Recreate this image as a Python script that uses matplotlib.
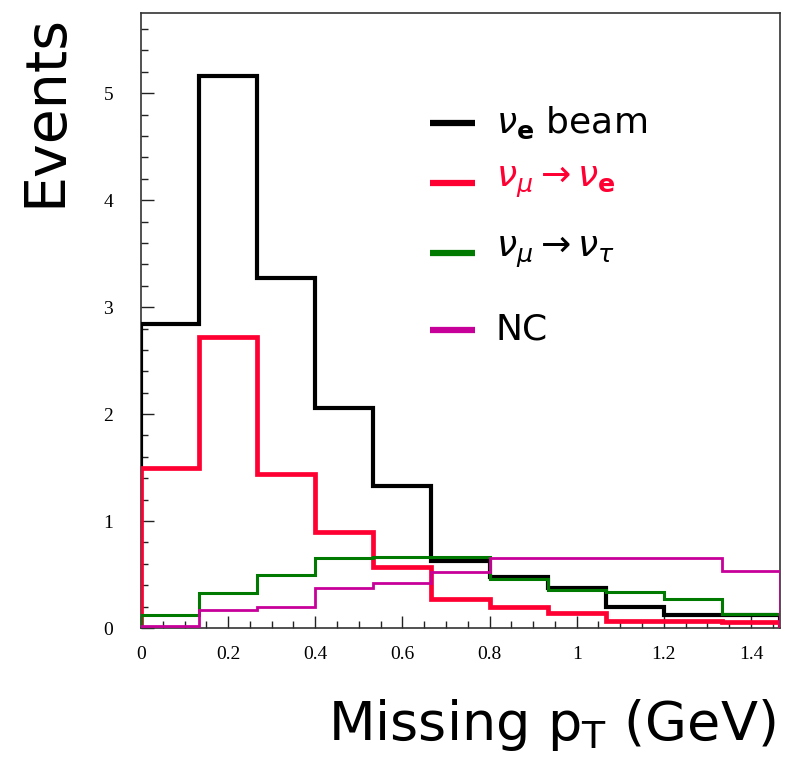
import numpy as np
import matplotlib
matplotlib.use('Agg')
from matplotlib import pyplot as plt
from matplotlib.ticker import MultipleLocator

# bin edges: 11 bins of width 2/15 GeV
edges = np.linspace(0, 22 / 15, 12)

nue_beam = [2.84, 5.16, 3.27, 2.06, 1.33, 0.63, 0.48, 0.37, 0.20, 0.12, 0.12]
numu_nue = [1.50, 2.72, 1.44, 0.90, 0.57, 0.27, 0.20, 0.14, 0.065, 0.065, 0.06]
numu_nutau = [0.12, 0.33, 0.50, 0.65, 0.66, 0.66, 0.46, 0.36, 0.34, 0.27, 0.13]
nc = [0.02, 0.17, 0.20, 0.37, 0.42, 0.52, 0.65, 0.65, 0.65, 0.65, 0.53]

labels = [r'$\nu_{\mathbf{e}}$ beam',
          r'$\nu_{\mu}\rightarrow\nu_{\mathbf{e}}$',
          r'$\nu_{\mu}\rightarrow\nu_{\tau}$',
          'NC']
colors = ['black', '#ff0033', '#007a00', '#c8009a']
text_colors = ['black', '#ff0033', 'black', 'black']
widths = [3.0, 3.4, 2.2, 2.0]

plt.rcParams['mathtext.fontset'] = 'dejavusans'

fig = plt.figure(figsize=(7.85, 7.74), dpi=100)
ax = fig.add_axes([0.1796, 0.1886, 0.8140, 0.7946])

series = [nue_beam, numu_nue, numu_nutau, nc]
for vals, c, lw in zip(series, colors, widths):
    ax.stairs(vals, edges, baseline=0, color=c, lw=lw, zorder=3)

ax.set_xlim(0, 22 / 15)
ax.set_ylim(0, 5.75)

ax.xaxis.set_major_locator(MultipleLocator(0.2))
ax.xaxis.set_minor_locator(MultipleLocator(0.05))
ax.yaxis.set_major_locator(MultipleLocator(1))
ax.yaxis.set_minor_locator(MultipleLocator(0.2))
ax.xaxis.set_major_formatter(plt.FuncFormatter(lambda v, p: f'{v:g}'))
ax.tick_params(which='both', direction='in', top=False, right=False,
               width=1.0, color='#222222')
ax.tick_params(which='major', length=9)
ax.tick_params(which='minor', length=5)
ax.tick_params(axis='x', pad=13, labelsize=14)
ax.tick_params(axis='y', pad=20, labelsize=14)
for lab in ax.get_xticklabels() + ax.get_yticklabels():
    lab.set_family('Liberation Serif')
for sp in ax.spines.values():
    sp.set_linewidth(1.2)
    sp.set_color('#333333')

# legend drawn by hand to keep its uneven spacing
leg_y = [0.821, 0.724, 0.610, 0.485]
for lbl, c, tc, y in zip(labels, colors, text_colors, leg_y):
    ax.plot([0.452, 0.523], [y, y], transform=ax.transAxes, color=c,
            lw=4.5, solid_capstyle='butt', clip_on=False)
    ax.text(0.555, y, lbl, transform=ax.transAxes, color=tc, fontsize=26,
            va='center', ha='left', family='DejaVu Sans')

fig.text(0.058, 0.857, 'Events', rotation=90, fontsize=41,
         ha='center', va='center', family='DejaVu Sans')
fig.text(0.988, 0.063, r'Missing p$_{\mathrm{T}}$ (GeV)', fontsize=39,
         ha='right', va='center', family='DejaVu Sans')

fig.savefig('out.png', dpi=100)
